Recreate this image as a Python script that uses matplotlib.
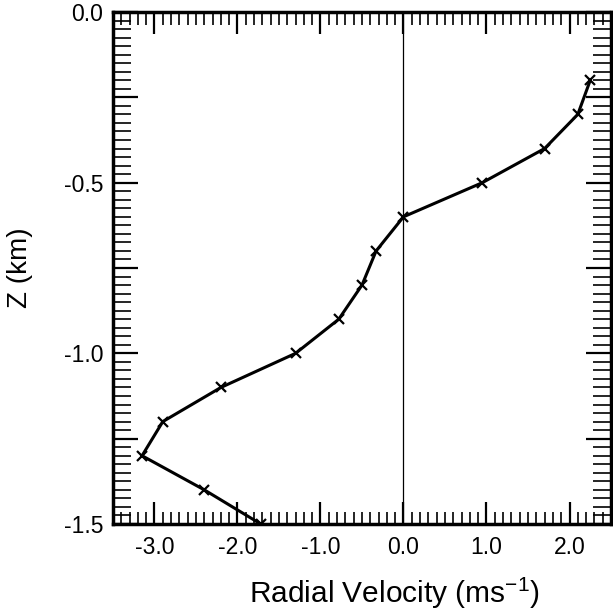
import matplotlib
matplotlib.use("Agg")
import matplotlib.pyplot as plt
from matplotlib.ticker import MultipleLocator, FuncFormatter

plt.rcParams['font.family'] = ['Liberation Sans', 'DejaVu Sans']
plt.rcParams['mathtext.fontset'] = 'custom'
plt.rcParams['mathtext.rm'] = 'Liberation Sans'
plt.rcParams['mathtext.default'] = 'regular'

# data
velocity = [2.25, 2.1, 1.7, 0.95, 0.0, -0.33, -0.5, -0.78, -1.3, -2.2, -2.9, -3.15, -2.4, -1.72]
height = [-0.2, -0.3, -0.4, -0.5, -0.6, -0.7, -0.8, -0.9, -1.0, -1.1, -1.2, -1.3, -1.4, -1.5]
xticks = [-3.0, -2.0, -1.0, 0.0, 1.0, 2.0]
xlabels = ['-3.0', '-2.0', '-1.0', '0.0', '1.0', '2.0']

fig = plt.figure(figsize=(6.13, 6.15), dpi=100)
ax = fig.add_axes([113/613, 1 - 524/615, 498/613, 512/615])

ax.axvline(0.0, color='black', lw=0.9, zorder=1)
ax.plot(velocity, height, color='black', lw=2.2, marker='x', ms=7, mew=1.6, zorder=3)

ax.set_xlim(-3.5, 2.5)
ax.set_ylim(-1.5, 0.0)

ax.set_xticks(xticks)
ax.set_xticklabels(xlabels)
ax.xaxis.set_minor_locator(MultipleLocator(0.1))
ax.yaxis.set_major_locator(MultipleLocator(0.25))
ax.yaxis.set_minor_locator(MultipleLocator(0.025))

def yfmt(v, pos):
    if abs(v * 2 - round(v * 2)) < 1e-6:
        return f"{v:.1f}" if abs(v) > 1e-9 else "0.0"
    return ""
ax.yaxis.set_major_formatter(FuncFormatter(yfmt))

ax.tick_params(which='both', direction='in', top=True, right=True, colors='black')
ax.tick_params(axis='both', which='major', labelsize=16.5)
ax.tick_params(axis='x', which='major', length=16, width=1.6, pad=9)
ax.tick_params(axis='x', which='minor', length=9, width=1.2)
ax.tick_params(axis='y', which='major', length=18, width=1.6, pad=7)
ax.tick_params(axis='y', which='minor', length=13, width=1.2)

for s in ax.spines.values():
    s.set_linewidth(2.5)

ax.set_xlabel('Radial Velocity (ms$^{-1}$)', fontsize=21.5, labelpad=12, x=0.564)
ax.set_ylabel('Z (km)', fontsize=20, labelpad=22)

fig.savefig('out.png', dpi=100)
